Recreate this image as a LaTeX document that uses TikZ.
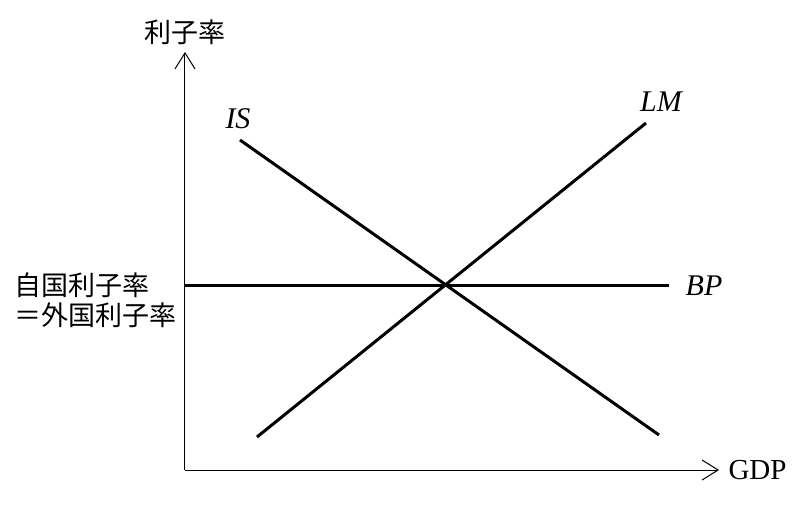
\documentclass[tikz,border=0pt]{standalone}
\usepackage{fontspec}
\setmainfont{Liberation Serif}
\newfontfamily\jp{Noto Sans CJK JP}
\usetikzlibrary{arrows.meta}

\begin{document}
\begin{tikzpicture}[x=1pt,y=1pt,
    axis/.style={line width=1pt,-{Straight Barb[length=16pt,width=20pt,line width=1pt]}},
    curve/.style={line width=3pt},
    jplabel/.style={font=\jp\fontsize{27}{30}\selectfont},
    curvelabel/.style={font=\fontsize{30}{32}\selectfont\itshape}]
    \useasboundingbox (-185,-42) rectangle (616,470);

    % axes
    \coordinate (O) at (0,0);
    \coordinate (Ytop) at (0,418);
    \coordinate (Xend) at (534,0);
    \draw[axis] (O) -- (Ytop);
    \draw[axis] (O) -- (Xend);
    \node[jplabel,above=4pt] (rate) at (Ytop) {利子率};
    \node[font=\fontsize{29}{30}\selectfont,right=6pt] (gdp) at (Xend) {GDP};

    % curves
    \coordinate (IS1) at (55,330);
    \coordinate (IS2) at (474,35);
    \coordinate (LM1) at (72,33);
    \coordinate (LM2) at (461,347);
    \coordinate (BP1) at (0,184);
    \coordinate (BP2) at (484,184);
    \draw[curve] (IS1) -- (IS2);
    \draw[curve] (LM1) -- (LM2);
    \draw[curve] (BP1) -- (BP2);
    \node[curvelabel] (islabel) at (53,351) {IS};
    \node[curvelabel] (lmlabel) at (476,368) {LM};
    \node[curvelabel] (bplabel) at (519,184) {BP};

    % home rate
    \node[jplabel,align=left,anchor=west,inner sep=0pt] (home) at (-171,170) {自国利子率\\＝外国利子率};
\end{tikzpicture}
\end{document}
